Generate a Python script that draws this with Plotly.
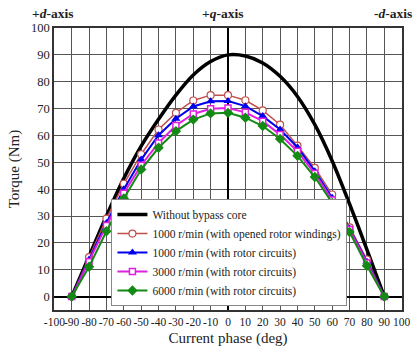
import plotly.graph_objects as go

phase = [-90, -80, -70, -60, -50, -40, -30, -20, -10, 0, 10, 20, 30, 40, 50, 60, 70, 80, 90]

no_bypass = [0, 15, 30, 44, 56, 66, 75, 82.5, 87.5, 90, 89.6, 87, 82, 74.5, 64, 50.5, 34.5, 17.5, 0]
open_1000 = [0, 14.7, 29, 42, 53, 62.2, 68.4, 73, 75, 75, 73.1, 69.3, 64, 56.2, 47.9, 38, 25.8, 13.8, 0]
rotor_1000 = [0, 13.8, 27.4, 40, 51, 60.1, 66.2, 70.8, 72.7, 72.8, 70.9, 67.2, 62.2, 55.6, 46.7, 36.8, 25.3, 13, 0]
rotor_3000 = [0, 13, 26.5, 38.5, 48.9, 57.2, 63.7, 68, 69.9, 70.2, 68.6, 65.3, 60.3, 54.1, 45.8, 36, 25, 12.5, 0]
rotor_6000 = [0, 11.1, 24.3, 36.5, 47.3, 55.4, 61.6, 65.9, 68.2, 68.4, 66.6, 63.5, 58.7, 52.4, 44.5, 34.9, 24, 11.5, 0]

names = [
    "Without bypass core",
    "1000 r/min (with opened rotor windings)",
    "1000 r/min (with rotor circuits)",
    "3000 r/min (with rotor circuits)",
    "6000 r/min (with rotor circuits)",
]

x_ticks = list(range(-100, 101, 10))
y_ticks = list(range(0, 101, 10))

FONT = "Liberation Serif, Times New Roman, serif"

fig = go.Figure()
fig.add_trace(go.Scatter(x=phase, y=no_bypass, name=names[0], mode="lines",
                         line=dict(color="black", width=3.5, shape="spline", smoothing=0.8)))
fig.add_trace(go.Scatter(x=phase, y=open_1000, name=names[1], mode="lines+markers",
                         line=dict(color="#c0504d", width=1.5),
                         marker=dict(symbol="circle", size=7, color="white",
                                     line=dict(color="#c0504d", width=1.2))))
fig.add_trace(go.Scatter(x=phase, y=rotor_1000, name=names[2], mode="lines+markers",
                         line=dict(color="#0000ee", width=2),
                         marker=dict(symbol="triangle-up", size=8, color="#0000ee")))
fig.add_trace(go.Scatter(x=phase, y=rotor_3000, name=names[3], mode="lines+markers",
                         line=dict(color="#e020e0", width=2),
                         marker=dict(symbol="square", size=6, color="white",
                                     line=dict(color="#e020e0", width=1.5))))
fig.add_trace(go.Scatter(x=phase, y=rotor_6000, name=names[4], mode="lines+markers",
                         line=dict(color="#138a13", width=2),
                         marker=dict(symbol="diamond", size=8, color="#138a13")))

fig.update_layout(
    width=416, height=351,
    margin=dict(l=51, r=12, t=28, b=41),
    paper_bgcolor="white", plot_bgcolor="white",
    font=dict(family=FONT, size=12, color="#222"),
    showlegend=True,
    legend=dict(x=0.165, y=0.014, xanchor="left", yanchor="bottom",
                bgcolor="white", bordercolor="#888", borderwidth=1,
                font=dict(family=FONT, size=11.5, color="#222"),
                tracegroupgap=0, itemwidth=30),
)
fig.update_xaxes(range=[-100.2, 100.2], tickvals=x_ticks, ticktext=[str(v) for v in x_ticks],
                 tickangle=0, ticklabeloverflow="allow", automargin=False,
                 showgrid=True, gridcolor="#555", gridwidth=0.8,
                 zeroline=True, zerolinecolor="black", zerolinewidth=1.5,
                 showline=True, linecolor="#333", linewidth=1.5, mirror=True,
                 ticks="", tickfont=dict(family=FONT, size=11.5),
                 title=dict(text="Current phase (deg)", font=dict(family=FONT, size=15), standoff=6))
fig.update_yaxes(range=[-5, 100], tickvals=y_ticks,
                 showgrid=True, gridcolor="#555", gridwidth=0.8,
                 zeroline=True, zerolinecolor="black", zerolinewidth=1.5,
                 showline=True, linecolor="#333", linewidth=1.5, mirror=True,
                 ticks="", tickfont=dict(family=FONT, size=12.5),
                 title=dict(text="Torque (Nm)", font=dict(family=FONT, size=15), standoff=8))

for txt, xp, anchor in [("<b>+<i>d</i>-axis</b>", -0.07, "left"),
                        ("<b>+<i>q</i>-axis</b>", 0.485, "center"),
                        ("<b>-<i>d</i>-axis</b>", 1.034, "right")]:
    fig.add_annotation(text=txt, xref="paper", yref="paper", x=xp, y=1.05,
                       xanchor=anchor, yanchor="middle", showarrow=False,
                       font=dict(family=FONT, size=13.5, color="#222"))

fig.write_html("out.html")
